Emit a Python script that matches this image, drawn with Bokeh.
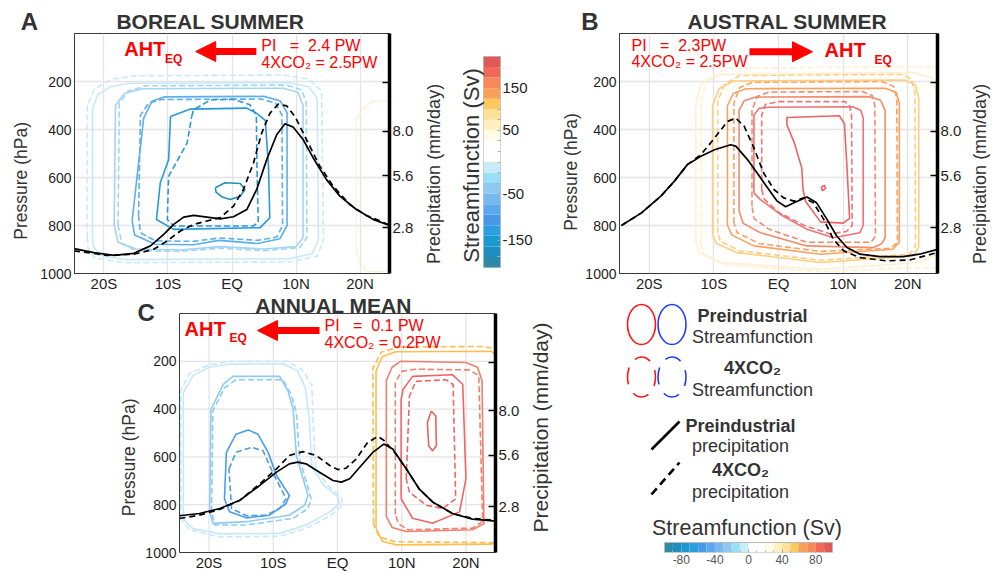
import math
from bokeh.plotting import figure
from bokeh.models import (Range1d, LinearAxis, FixedTicker, Label, Arrow, NormalHead,
                          CustomJSTickFormatter, PrintfTickFormatter)
from bokeh.layouts import row, column
from bokeh.embed import file_html
from bokeh.resources import INLINE

FONT = "Liberation Sans"
RED = "#ff0000"
DARK = "#333333"

# ---------------- axes ----------------
LAT_LIM = (-24.6, 24.6)
XTICKS = [-20, -10, 0, 10, 20]
XTICK_LABELS = ["20S", "10S", "EQ", "10N", "20N"]
P_TICKS = [200, 400, 600, 800, 1000]
P_GRID = [200, 400, 600, 800]
PR_LIM = (0.33, 13.27)
PR_TICKS = [2.8, 5.6, 8.0]
PR_MINOR = [10.64]

# ---------------- precipitation (mm/day) ----------------
A_LAT_PI = [-24.67, -21.56, -18.44, -15.33, -12.74, -10.66, -9.11, -7.55, -5.99, -3.92, -1.84, 0.23, 2.31,
            3.86, 5.42, 6.98, 8.27, 9.57, 11.13, 12.68, 14.76, 16.84, 19.43, 22.02, 24.82]
A_PR_PI = [1.67, 1.46, 1.31, 1.42, 1.82, 2.44, 2.98, 3.37, 3.46, 3.37, 3.28, 3.39, 3.78,
           4.86, 6.47, 7.81, 8.40, 8.22, 7.54, 6.56, 5.39, 4.50, 3.78, 3.25, 2.89]
A_LAT_4X = [-24.67, -19.48, -15.33, -12.22, -10.14, -8.07, -5.99, -3.92, -1.84, 0.23, 1.79, 3.35, 4.64,
            5.94, 7.24, 8.53, 9.83, 11.65, 13.72, 15.80, 18.39, 20.98, 24.82]
A_PR_4X = [1.55, 1.31, 1.37, 1.64, 2.08, 2.62, 2.98, 3.16, 3.34, 3.96, 4.86, 6.29, 7.90,
           8.98, 9.46, 9.37, 8.80, 7.54, 6.11, 5.04, 4.05, 3.46, 2.92]

B_LAT_PI = [-24.3, -21.2, -18.2, -16.1, -14.1, -12.0, -9.9, -7.4, -6.6, -4.8, -3.3, -1.7, -0.2, 1.1, 2.4,
            4.4, 5.9, 7.5, 9.0, 10.6, 12.6, 15.7, 19.3, 21.8, 24.6]
B_PR_PI = [2.92, 3.60, 4.50, 5.31, 6.20, 6.65, 7.00, 7.27, 7.20, 6.47, 5.75, 4.95, 4.23, 3.93, 4.14,
           4.45, 4.14, 3.25, 2.35, 1.73, 1.37, 1.24, 1.24, 1.37, 1.63]
B_LAT_4X = [-24.3, -21.2, -18.2, -16.1, -14.1, -12.0, -9.9, -7.9, -6.6, -5.3, -3.8, -2.3, -0.7, 0.8, 2.4,
            3.9, 5.4, 7.0, 8.5, 10.1, 12.6, 16.7, 20.3, 24.6]
B_PR_4X = [2.92, 3.60, 4.50, 5.31, 6.20, 6.74, 7.63, 8.53, 8.71, 8.26, 7.10, 5.75, 4.86, 4.41, 4.23,
           4.41, 4.14, 3.25, 2.17, 1.55, 1.19, 1.01, 1.06, 1.46]

C_LAT_PI = [-24.6, -21.5, -18.3, -15.2, -12.1, -9.5, -7.5, -6.2, -4.9, -2.8, -0.7, 0.6, 1.9, 3.7, 5.5,
            7.2, 8.6, 10.7, 12.7, 14.8, 17.9, 21.0, 24.7]
C_PR_PI = [2.32, 2.44, 2.71, 3.16, 3.96, 4.68, 5.13, 5.22, 5.13, 4.68, 4.23, 4.14, 4.32, 5.04, 5.75,
           6.20, 5.93, 4.86, 3.78, 3.07, 2.44, 2.14, 2.03]
C_LAT_4X = [-24.6, -21.5, -18.3, -15.2, -12.1, -9.5, -7.5, -5.4, -3.3, -1.2, 0.05, 1.3, 2.9, 4.7, 6.3,
            7.3, 9.1, 10.7, 12.7, 14.8, 17.9, 21.0, 24.7]
C_PR_4X = [2.17, 2.35, 2.67, 3.16, 4.05, 4.86, 5.58, 5.79, 5.58, 5.04, 4.82, 4.89, 5.39, 6.29, 6.61,
           6.38, 5.66, 4.86, 3.78, 3.07, 2.44, 2.17, 2.07]

# ---------------- streamfunction contours (lat, hPa) ----------------
A_PI = [
    [(-21.8, 850), (-21.8, 320), (-21.0, 255), (-19.0, 222), (-16.0, 207), (9.0, 205), (12.0, 222), (13.3, 270),
     (13.5, 860), (12.5, 918), (9.0, 938), (-17.0, 942), (-20.5, 925), (-21.6, 890)],
    [(-18.4, 800), (-18.2, 300), (-16.8, 250), (-14.0, 230), (8.0, 228), (10.3, 245), (11.1, 300), (11.1, 850),
     (10.0, 888), (5.0, 898), (-2.0, 888), (-8.0, 902), (-15.0, 898), (-17.8, 870)],
    [(-15.6, 780), (-13.8, 354), (-12.5, 282), (-10.5, 264), (5.0, 262), (7.5, 280), (8.6, 330), (8.6, 800),
     (7.5, 855), (4.0, 875), (-2.0, 862), (-6.0, 880), (-12.0, 878), (-15.2, 840)],
    [(-9.6, 346), (-6.5, 315), (2.3, 311), (3.8, 332), (5.2, 362), (5.7, 553), (5.9, 768), (4.4, 809),
     (-9.1, 816), (-11.8, 775), (-11.2, 622), (-9.9, 526)],
    [(-2.6, 643), (-1.1, 622), (1.3, 625), (2.0, 650), (1.3, 678), (-0.3, 692), (-1.6, 680), (-2.5, 661)],
]
A_4X = [
    [(-22.6, 850), (-22.6, 300), (-21.5, 232), (-19.0, 192), (-15.0, 176), (8.0, 173), (12.0, 190), (14.0, 240),
     (14.3, 860), (13.3, 928), (9.0, 952), (-17.0, 955), (-21.5, 935), (-22.5, 895)],
    [(-17.8, 800), (-17.6, 290), (-16.2, 240), (-13.5, 218), (8.5, 215), (10.9, 235), (11.6, 290), (11.7, 850),
     (10.6, 892), (5.0, 905), (-2.0, 895), (-8.0, 908), (-15.0, 905), (-17.2, 875)],
    [(-14.6, 760), (-14.3, 340), (-13.0, 290), (-11.0, 275), (4.5, 273), (6.8, 290), (7.8, 340), (7.9, 800),
     (7.0, 848), (4.0, 862), (-2.0, 852), (-6.0, 866), (-12.0, 864), (-14.3, 830)],
    [(-6.3, 346), (-6.0, 318), (-3.4, 277), (0.2, 274), (2.8, 297), (3.8, 339), (3.9, 553), (4.1, 788),
     (3.3, 802), (-9.1, 802), (-10.1, 775), (-9.9, 595), (-7.0, 456)],
]
A_POS = [(19.4, 900), (19.4, 360), (20.5, 312), (22.0, 282), (23.8, 278), (25.5, 300), (25.5, 995),
         (21.0, 990), (19.8, 950)]

B_PI = [
    [(-12.8, 870), (-12.8, 290), (-12.0, 210), (-9.0, 170), (21.0, 163), (23.8, 185), (24.4, 250), (24.5, 920),
     (21.8, 954), (6.5, 982), (-8.9, 954), (-12.3, 910)],
    [(-10.2, 840), (-10.2, 300), (-9.2, 230), (-7.0, 198), (19.5, 194), (21.2, 215), (21.7, 270), (21.7, 890),
     (20.8, 927), (6.5, 954), (-6.4, 913), (-9.6, 875)],
    [(-7.9, 800), (-7.9, 300), (-7.0, 250), (-5.0, 230), (16.5, 228), (18.2, 245), (18.7, 290), (18.7, 870),
     (17.7, 899), (6.5, 920), (-3.8, 885), (-7.2, 840)],
    [(-6.1, 740), (-6.1, 320), (-5.3, 280), (-3.5, 265), (14.0, 263), (15.8, 278), (16.5, 320), (16.5, 850),
     (16.0, 875), (14.7, 892), (4.4, 885), (-2.8, 830), (-5.5, 790)],
    [(-3.8, 664), (-3.8, 340), (-3.0, 312), (-1.5, 307), (11.5, 305), (12.7, 320), (13.1, 350), (13.1, 800),
     (12.6, 830), (8.5, 851), (4.4, 816), (0.3, 754), (-2.8, 692)],
    [(1.3, 380), (1.3, 350), (9.4, 343), (10.2, 375), (10.6, 560), (11.0, 770), (10.0, 790), (6.5, 785),
     (4.2, 700), (3.8, 650), (3.6, 560), (2.5, 460)],
    [(6.6, 640), (7.1, 633), (7.3, 645), (6.8, 655)],
]
B_4X = [
    [(-12.0, 880), (-12.0, 280), (-11.0, 190), (-8.0, 145), (22.0, 138), (25.5, 140), (25.5, 980), (22.0, 975),
     (6.5, 992), (-8.0, 965), (-11.5, 925)],
    [(-9.4, 830), (-9.4, 280), (-8.3, 210), (-6.0, 175), (19.0, 170), (20.6, 190), (21.1, 250), (21.2, 885),
     (20.3, 920), (6.5, 945), (-6.0, 905), (-9.0, 865)],
    [(-6.9, 790), (-6.9, 290), (-6.0, 225), (-4.0, 203), (16.0, 200), (17.8, 220), (18.3, 270), (18.4, 870),
     (17.4, 895), (6.5, 908), (-3.0, 875), (-6.4, 830)],
    [(-4.1, 720), (-4.1, 320), (-3.3, 262), (-1.5, 244), (13.0, 242), (14.5, 258), (14.9, 300), (15.0, 845),
     (14.3, 870), (4.4, 870), (-1.5, 815), (-3.8, 770)],
    [(-2.6, 650), (-2.6, 340), (-2.0, 295), (0.0, 284), (10.3, 284), (11.0, 300), (11.3, 340), (11.4, 800),
     (10.5, 825), (8.0, 835), (4.0, 800), (0.0, 745), (-2.2, 690)],
]

C_PI_BLUE = [
    [(-24.0, 860), (-24.0, 330), (-22.5, 260), (-20.0, 225), (-16.8, 212), (-8.5, 210), (-6.2, 240), (-5.0, 310),
     (-4.4, 440), (-4.0, 640), (-2.3, 715), (0.0, 765), (0.3, 795), (-1.2, 830), (-4.9, 885), (-9.0, 920),
     (-18.3, 922), (-22.5, 900)],
    [(-19.9, 830), (-19.7, 401), (-17.8, 297), (-16.3, 263), (-9.0, 263), (-7.7, 325), (-6.9, 401), (-6.4, 595),
     (-4.6, 761), (-5.1, 802), (-7.5, 844), (-14.2, 871), (-19.4, 878)],
    [(-17.6, 775), (-17.3, 581), (-15.8, 505), (-13.9, 487), (-12.4, 505), (-10.8, 581), (-9.5, 678), (-7.5, 761),
     (-8.0, 795), (-10.6, 844), (-14.2, 855), (-16.8, 830)],
]
C_4X_BLUE = [
    [(-24.4, 860), (-24.4, 320), (-23.0, 250), (-20.0, 215), (-16.5, 200), (-7.8, 200), (-5.5, 235), (-4.0, 300),
     (-3.8, 450), (-3.4, 650), (-1.5, 720), (0.6, 770), (0.8, 800), (-0.8, 840), (-4.5, 895), (-9.0, 932),
     (-18.5, 935), (-23.0, 905)],
    [(-19.6, 830), (-19.4, 408), (-17.6, 311), (-15.8, 277), (-8.5, 277), (-7.2, 339), (-6.4, 415), (-5.9, 608),
     (-4.1, 775), (-4.6, 816), (-6.9, 857), (-14.2, 885), (-19.1, 885)],
    [(-16.9, 650), (-15.8, 581), (-13.4, 560), (-11.6, 574), (-10.1, 664), (-8.0, 775), (-9.0, 816), (-11.1, 844),
     (-14.2, 846), (-16.5, 816)],
]
C_PI_RED = [
    [(6.0, 900), (6.0, 240), (7.0, 180), (9.1, 160), (24.0, 158), (25.5, 200), (25.5, 950), (24.0, 965),
     (9.2, 968), (7.0, 953)],
    [(7.6, 850), (7.6, 280), (8.5, 225), (9.8, 200), (20.0, 205), (21.8, 225), (22.5, 280), (22.8, 880),
     (21.0, 905), (10.7, 912), (8.5, 895)],
    [(9.9, 775), (9.9, 360), (10.2, 318), (11.7, 263), (17.9, 256), (19.5, 297), (20.0, 692), (19.0, 830),
     (14.8, 878), (11.7, 857)],
    [(14.6, 408), (15.3, 429), (15.4, 553), (14.8, 574), (14.2, 553), (14.0, 456)],
]
C_4X_RED = [
    [(5.6, 880), (5.5, 230), (6.8, 162), (9.5, 140), (22.5, 138), (25.5, 150), (25.5, 960), (22.0, 958),
     (9.0, 955), (6.5, 935)],
    [(9.0, 840), (9.0, 290), (10.0, 242), (12.0, 233), (20.5, 236), (22.0, 260), (22.6, 870), (21.0, 898),
     (11.0, 905), (9.5, 880)],
    [(10.7, 692), (11.2, 346), (12.2, 284), (16.9, 277), (18.0, 297), (18.4, 775), (16.4, 816), (13.8, 802),
     (11.2, 747)],
]

A_COLORS = ["#c9e9f9", "#a2d4f4", "#5caeee", "#2898da", "#2290b4"]
A_POS_COLOR = "#fff0d2"
B_COLORS = ["#ffefcf", "#ffcd7e", "#f9a15e", "#f38b6d", "#f07373", "#e96464", "#e96464"]
C_BLUE_COLORS = ["#c6e8f9", "#8fcaf2", "#4b9ce8"]
C_RED_COLORS = ["#ffbc50", "#f27e6c", "#f06666", "#e86262"]

# ---------------- colour scales ----------------
CB_COLORS = ["#2a8aa8", "#1e8ec0", "#1a98d0", "#2aa0e0", "#4898e8", "#5aa8f0", "#78b8f0", "#8cc8f0",
             "#98e0f8", "#c8ecf8", "#ffffff", "#ffffff", "#fffbe8", "#fff0c0", "#ffe098", "#ffc860",
             "#f8a058", "#f88858", "#f06858", "#e05858"]
CB_EDGES = [-215, -190, -165, -140, -115, -90, -70, -50, -35, -20, 0, 20, 35, 50, 75, 100, 125, 150, 175,
            200, 225]
CB_TICKS = [-150, -50, 50, 150]
CB_TICK_LABELS = ["-150", "-50", "50", "150"]
CBH_EDGES = [-100, -90, -80, -70, -60, -50, -40, -30, -20, -10, 0, 10, 20, 30, 40, 50, 60, 70, 80, 90, 100]
CBH_TICKS = [-80, -40, 0, 40, 80]

GRID_COLOR = "#e4e4e4"
FRAME_COLOR = "#3a3a3a"


def add_text(p, x, y, text, size, color=DARK, bold=False, align="left", angle=0.0, place="center"):
    lab = Label(x=x, y=y, text=text, text_font=FONT, text_font_size=f"{size}px",
                text_font_style="bold" if bold else "normal", text_color=color,
                text_align=align, text_baseline="middle", angle=angle)
    p.add_layout(lab, place)


def add_arrow(p, x0, x1, y):
    p.add_layout(Arrow(end=NormalHead(size=20, fill_color=RED, line_color=RED, line_width=1),
                       x_start=x0, y_start=y, x_end=x1, y_end=y, line_color=RED, line_width=7))


def closed(poly):
    xs = [q[0] for q in poly] + [poly[0][0]]
    ys = [q[1] for q in poly] + [poly[0][1]]
    return xs, ys


def draw_contours(p, polys, colors, dashed):
    for poly, col in zip(polys, colors):
        xs, ys = closed(poly)
        p.line(xs, ys, line_color=col, line_width=1.6, line_join="round",
               line_dash="6 3" if dashed else "solid")


def draw_precip(p, lat_pi, pr_pi, lat_4x, pr_4x):
    p.line(lat_4x, pr_4x, y_range_name="pr", line_color="black", line_width=1.7, line_dash="6 4")
    p.line(lat_pi, pr_pi, y_range_name="pr", line_color="black", line_width=1.7)


def make_panel(width, height, bl, br, bt, bb, p_top=0.0):
    """p_top < 0 extends the frame above 0 hPa so that a title can sit inside it."""
    pr_top = PR_LIM[1] + (PR_LIM[1] - PR_LIM[0]) * (-p_top) / 1000.0
    p = figure(width=width, height=height, x_range=Range1d(*LAT_LIM), y_range=Range1d(1000, p_top),
               output_backend="svg", toolbar_location=None, tools="",
               min_border_left=bl, min_border_right=br, min_border_top=bt, min_border_bottom=bb)
    p.extra_y_ranges = {"pr": Range1d(PR_LIM[0], pr_top)}
    if p_top < 0:
        p.outline_line_color = None
        p.grid.visible = False
        p.segment(x0=XTICKS, y0=[0] * len(XTICKS), x1=XTICKS, y1=[1000] * len(XTICKS),
                  line_color=GRID_COLOR, line_width=1.3)
        p.segment(x0=[LAT_LIM[0]] * len(P_GRID), y0=P_GRID, x1=[LAT_LIM[1]] * len(P_GRID), y1=P_GRID,
                  line_color=GRID_COLOR, line_width=1.3)
        p.segment(x0=[LAT_LIM[0]], y0=[0], x1=[LAT_LIM[1]], y1=[0], line_color=FRAME_COLOR, line_width=1.2)
    else:
        p.outline_line_color = FRAME_COLOR
        p.outline_line_width = 1
        p.xgrid.ticker = FixedTicker(ticks=XTICKS)
        p.ygrid.ticker = FixedTicker(ticks=P_GRID)
        p.grid.grid_line_color = GRID_COLOR
        p.grid.grid_line_width = 1.3
    xa = p.xaxis[0]
    xa.ticker = FixedTicker(ticks=XTICKS)
    xa.major_label_overrides = dict(zip(XTICKS, XTICK_LABELS))
    ya = p.yaxis[0]
    ya.ticker = FixedTicker(ticks=P_TICKS)
    ya.bounds = (0, 1000)
    for ax in (xa, ya):
        ax.axis_line_color = FRAME_COLOR
        ax.major_tick_out = 0
        ax.major_tick_in = 0
        ax.minor_tick_out = 0
        ax.minor_tick_in = 0
        ax.major_label_text_font = FONT
        ax.major_label_text_color = "#1e1e1e"
    xa.major_label_text_font_size = "15px"
    xa.major_label_standoff = 1
    ya.major_label_text_font_size = "14px"
    ya.major_label_standoff = 3
    ra = LinearAxis(y_range_name="pr", ticker=FixedTicker(ticks=PR_TICKS, minor_ticks=PR_MINOR),
                    formatter=PrintfTickFormatter(format="%.1f"), bounds=PR_LIM)
    ra.axis_line_color = "black"
    ra.axis_line_width = 3.5
    ra.major_tick_in = 7
    ra.major_tick_out = 0
    ra.minor_tick_in = 7
    ra.minor_tick_out = 0
    ra.major_tick_line_width = 1.5
    ra.minor_tick_line_width = 1.5
    ra.minor_tick_line_color = "black"
    ra.major_label_standoff = 3
    ra.major_label_text_font = FONT
    ra.major_label_text_font_size = "15px"
    ra.major_label_text_color = "#1e1e1e"
    p.add_layout(ra, "right")
    return p


def pi_text(a):
    return "PI \u00a0 = \u00a0" + a


TOP_H = 294
BOT_H = 279

# ---------------- panel A ----------------
pA = make_panel(448, TOP_H, 72, 59, 33, 21)
draw_contours(pA, A_4X, A_COLORS, True)
draw_contours(pA, A_PI, A_COLORS, False)
xs, ys = closed(A_POS)
pA.line(xs, ys, line_color=A_POS_COLOR, line_width=1.4)
draw_precip(pA, A_LAT_PI, A_PR_PI, A_LAT_4X, A_PR_4X)
add_text(pA, -33.0, -49.8, "A", 24, bold=True, place="left")
add_text(pA, -3.38, -51, "BOREAL SUMMER", 21, bold=True, align="center", place="above")
add_text(pA, -33.0, 614, "Pressure (hPa)", 17.5, align="center", angle=math.pi / 2, place="left")
add_text(pA, 31.5, 585, "Precipitation (mm/day)", 18, align="center", angle=math.pi / 2, place="right")
add_text(pA, -16.84, 66, "AHT", 20, color=RED, bold=True)
add_text(pA, -10.48, 108, "EQ", 12, color=RED, bold=True)
add_arrow(pA, 3.8, -5.67, 75)
add_text(pA, 4.58, 48.5, pi_text("2.4 PW"), 16, color=RED)
add_text(pA, 4.58, 120, "4XCO\u2082 = 2.5PW", 16, color=RED)

# ---------------- colour bar (seasonal) ----------------
cb = figure(width=97, height=TOP_H, x_range=Range1d(0, 1), y_range=Range1d(0, len(CB_COLORS)),
            x_axis_type=None, y_axis_location="right", output_backend="svg", toolbar_location=None,
            tools="", min_border_left=35, min_border_right=45, min_border_top=56,
            min_border_bottom=TOP_H - 56 - 211)
band_idx = list(range(len(CB_COLORS)))
cb.quad(left=0, right=1, bottom=band_idx, top=[i + 1 for i in band_idx], fill_color=CB_COLORS,
        line_color=None)


def interp_index(v, edges):
    for i in range(len(edges) - 1):
        if edges[i] <= v <= edges[i + 1]:
            return i + (v - edges[i]) / (edges[i + 1] - edges[i])
    return 0.0


cb_pos = [interp_index(v, CB_EDGES) for v in CB_TICKS]
cya = cb.yaxis[0]
cya.ticker = FixedTicker(ticks=cb_pos, minor_ticks=list(range(len(CB_EDGES))))
cya.formatter = CustomJSTickFormatter(args=dict(pos=cb_pos, labs=CB_TICK_LABELS), code="""
for (let i = 0; i < pos.length; i++) { if (Math.abs(pos[i] - tick) < 1e-6) { return labs[i]; } }
return "";
""")
cya.axis_line_color = None
cya.major_tick_in = 3
cya.major_tick_out = 0
cya.minor_tick_in = 3
cya.minor_tick_out = 0
cya.major_tick_line_color = "#a0a0a0"
cya.minor_tick_line_color = "#b0b0b0"
cya.major_label_standoff = 2
cya.major_label_text_font = FONT
cya.major_label_text_font_size = "15px"
cya.major_label_text_color = "#1e1e1e"
cb.grid.visible = False
cb.outline_line_color = "#c4c4c4"
add_text(cb, -0.706, 9.67, "Streamfunction (Sv)", 22, align="center", angle=math.pi / 2, place="left")

# ---------------- panel B ----------------
pB = make_panel(453, TOP_H, 74, 61, 33, 21)
draw_contours(pB, B_4X, B_COLORS, True)
draw_contours(pB, B_PI, B_COLORS, False)
draw_precip(pB, B_LAT_PI, B_PR_PI, B_LAT_4X, B_PR_4X)
add_text(pB, -30.5, -49.8, "B", 24, bold=True, place="left")
add_text(pB, 1.35, -51, "AUSTRAL SUMMER", 21, bold=True, align="center", place="above")
add_text(pB, -32.1, 577, "Pressure (hPa)", 17.5, align="center", angle=math.pi / 2, place="left")
add_text(pB, 31.25, 585, "Precipitation (mm/day)", 18, align="center", angle=math.pi / 2, place="right")
add_text(pB, -22.75, 48.5, pi_text("2.3PW"), 16, color=RED)
add_text(pB, -22.75, 117, "4XCO\u2082 = 2.5PW", 16, color=RED)
add_arrow(pB, -4.49, 5.26, 76)
add_text(pB, 7.12, 70.5, "AHT", 20, color=RED, bold=True)
add_text(pB, 14.85, 112, "EQ", 12, color=RED, bold=True)

# ---------------- panel C (frame extended upward to hold its title) ----------------
pC = make_panel(598, BOT_H, 179, 103, 0, 21, p_top=-79.5)
draw_contours(pC, C_4X_BLUE, C_BLUE_COLORS, True)
draw_contours(pC, C_4X_RED, C_RED_COLORS, True)
draw_contours(pC, C_PI_BLUE, C_BLUE_COLORS, False)
draw_contours(pC, C_PI_RED, C_RED_COLORS, False)
draw_precip(pC, C_LAT_PI, C_PR_PI, C_LAT_4X, C_PR_4X)
add_text(pC, -31.14, -2.1, "C", 24, bold=True, place="left")
add_text(pC, -0.62, -31.5, "ANNUAL MEAN", 21, bold=True, align="center")
add_text(pC, -32.46, 602, "Pressure (hPa)", 17.5, align="center", angle=math.pi / 2, place="left")
add_text(pC, 31.6, 477, "Precipitation (mm/day)", 21, align="center", angle=math.pi / 2, place="right")
add_text(pC, -23.82, 62.8, "AHT", 20, color=RED, bold=True)
add_text(pC, -16.81, 104.6, "EQ", 12, color=RED, bold=True)
add_arrow(pC, -2.8, -12.46, 71.1)
add_text(pC, -2.02, 49, pi_text("0.1 PW"), 16, color=RED)
add_text(pC, -2.02, 121.3, "4XCO\u2082 = 0.2PW", 16, color=RED)

# ---------------- legend (x in Sv along the colour bar, y in px from top) ----------------
leg = figure(width=400, height=BOT_H, x_range=Range1d(-178.57, 297.62), y_range=Range1d(258, 0),
             y_axis_type=None, output_backend="svg", toolbar_location=None, tools="",
             min_border_left=0, min_border_right=0, min_border_top=0, min_border_bottom=21)
leg.outline_line_color = None
leg.grid.visible = False
leg.ellipse(x=[-127.38, -91.07], y=[30, 30], width=33.3, height=40, fill_color=None,
            line_color=["#ff1414", "#1e3cff"], line_width=1.6)
leg.ellipse(x=[-127.38, -91.07], y=[82.5, 82.5], width=33.3, height=40, fill_color=None,
            line_color=["#ff1414", "#1e3cff"], line_width=1.6, line_dash="17 10", line_dash_offset=8)
leg.line([-115.48, -82.14], [155, 127], line_color="black", line_width=2.6)
leg.line([-115.48, -82.14], [200, 168], line_color="black", line_width=2.6, line_dash="8 5")
add_text(leg, 4.76, 21, "Preindustrial", 18, bold=True, align="center")
add_text(leg, 4.76, 42.7, "Streamfunction", 18, align="center")
add_text(leg, 4.76, 73, "4XCO\u2082", 18, bold=True, align="center")
add_text(leg, 4.76, 95, "Streamfunction", 18, align="center")
add_text(leg, -9.52, 131, "Preindustrial", 18, bold=True, align="center")
add_text(leg, -9.52, 151.7, "precipitation", 18, align="center")
add_text(leg, -9.52, 175, "4XCO\u2082", 18, bold=True, align="center")
add_text(leg, -9.52, 197.7, "precipitation", 18, align="center")
add_text(leg, -1.79, 233, "Streamfunction (Sv)", 21.5, align="center")
leg.quad(left=CBH_EDGES[:-1], right=CBH_EDGES[1:], top=248, bottom=258, fill_color=CB_COLORS, line_color=None)
leg.quad(left=[CBH_EDGES[0]], right=[CBH_EDGES[-1]], top=248, bottom=258, fill_color=None,
         line_color="#b8b8b8", line_width=1)
lxa = leg.xaxis[0]
lxa.ticker = FixedTicker(ticks=CBH_TICKS, minor_ticks=CBH_EDGES)
lxa.formatter = PrintfTickFormatter(format="%d")
lxa.axis_line_color = None
lxa.major_tick_in = 3
lxa.major_tick_out = 0
lxa.minor_tick_in = 2
lxa.minor_tick_out = 0
lxa.major_tick_line_color = "#9a9a9a"
lxa.minor_tick_line_color = "#b0b0b0"
lxa.major_label_standoff = 2
lxa.major_label_text_font = FONT
lxa.major_label_text_font_size = "12px"
lxa.major_label_text_color = "#555555"

lay = column(row(column(pA), column(cb), column(pB)), row(column(pC), column(leg)))
open("out.html", "w").write(file_html(lay, INLINE))
